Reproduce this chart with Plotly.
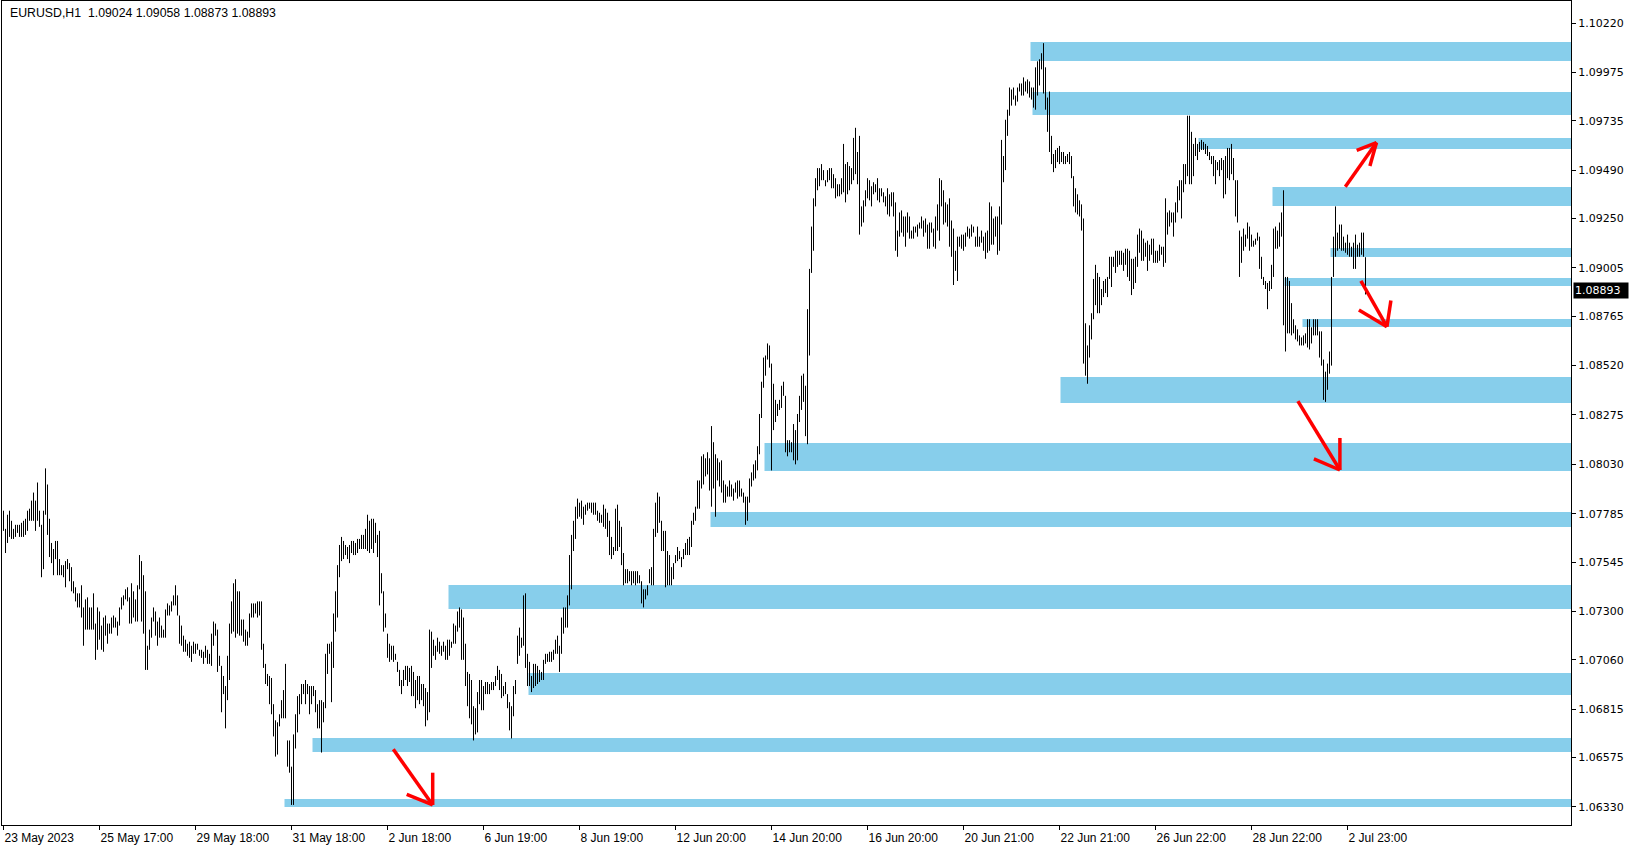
import plotly.graph_objects as go

# ---------------- data ----------------
SYMBOL = "EURUSD,H1"
BASE_PRICE = 1.0600          # bar extremes below are given in pips above this price
PIP = 0.0001

# hourly bars, index 0 = first visible bar (23 May 2023) ... 681 = current bar
high_pips = [
180,171,178,180,175,171,173,173,173,174, 175,176,180,181,185,189,185,194,180,173,
180,201,193,176,164,161,165,165,156,153, 153,155,156,154,152,145,142,139,139,143,
132,136,137,132,132,139,124,132,130,123, 127,128,124,124,127,128,127,125,132,137,
138,141,142,137,144,140,136,143,158,155, 148,140,113,121,127,132,130,125,127,123,
121,131,134,133,135,138,143,138,128,123, 118,116,114,115,113,115,114,114,111,111,
110,113,111,109,119,125,124,121,108,103, 98,93,108,124,135,144,146,140,140,126,
126,121,120,129,134,134,134,135,135,135, 114,104,99,98,97,84,76,75,79,86,
91,104,66,66,53,69,79,88,89,94, 94,96,94,93,93,93,91,84,86,86,
85,109,114,114,115,129,140,153,163,167, 165,163,162,163,165,165,164,166,166,168,
168,171,178,175,176,176,174,168,170,149, 140,129,119,114,113,113,109,105,101,96,
101,103,103,102,103,100,96,98,98,94, 94,92,90,121,120,116,113,117,115,113,
115,113,116,116,115,124,123,130,132,131, 127,114,100,99,96,83,82,90,96,96,
93,95,95,94,95,95,98,103,101,99, 93,95,89,85,83,93,96,118,122,117,
138,139,109,105,98,104,104,103,101,100, 106,109,109,110,110,111,116,118,113,127,
132,132,138,158,168,175,182,186,184,185, 182,183,184,184,184,184,184,180,179,178,
183,181,179,175,167,162,181,183,175,172, 159,151,151,150,150,150,150,150,148,145,
141,141,143,151,152,171,184,189,187,175, 170,170,160,158,152,154,158,162,160,157,
161,164,166,167,175,179,182,195,195,207, 208,206,209,206,222,214,208,206,204,205,
195,193,192,195,193,191,194,195,195,191, 189,187,187,196,199,203,205,212,228,244,
256,257,263,262,253,243,235,233,235,242, 244,237,215,215,214,223,220,228,237,247,
248,242,280,300,321,335,345,350,350,352, 349,344,349,350,350,347,345,342,342,345,
362,352,353,351,350,365,370,358,366,331, 334,339,345,344,341,343,342,345,340,340,
338,336,340,337,338,338,333,319,328,329, 326,326,328,326,319,321,321,322,323,326,
324,325,322,323,323,320,326,332,345,344, 339,333,332,335,324,320,309,316,316,317,
317,318,321,320,322,321,316,321,316,319, 316,318,319,333,331,325,326,326,331,364,
356,374,379,390,389,390,386,390,392,392, 395,393,394,393,390,390,400,403,404,407,
412,400,385,388,366,357,359,360,361,358, 358,356,357,358,356,346,340,337,334,332,
325,273,262,272,278,295,302,298,296,290, 294,295,296,306,306,306,309,309,309,309,
308,310,310,309,305,305,306,317,320,319, 315,313,314,312,315,315,309,309,312,311,
311,335,328,329,328,328,333,341,344,344, 352,352,376,376,368,362,365,362,363,364,
363,362,361,358,356,356,354,353,354,355, 354,356,360,360,362,355,344,344,319,316,
320,317,323,321,317,314,315,318,316,306, 296,294,293,294,302,320,321,319,323,328,
339,296,296,294,283,275,272,270,267,266, 267,268,275,275,271,275,275,275,269,269,
255,249,253,259,296,316,331,318,322,322, 316,313,317,313,311,313,317,312,313,318,
318,305.8,
]

low_pips = [
170,159,164,167,166,166,167,169,167,167, 167,168,170,175,175,175,170,175,172,147,
151,178,168,157,154,148,156,148,148,148, 147,142,151,145,140,139,135,132,132,127,
113,121,121,121,121,121,106,111,116,111, 110,118,114,119,119,122,122,118,123,131,
133,136,135,124,124,127,125,125,141,125, 119,101,101,111,117,125,118,113,117,117,
117,117,128,128,130,133,133,128,114,113, 110,110,108,107,105,109,109,111,108,107,
104,107,104,104,103,113,118,100,103,80, 89,72,86,96,119,120,117,119,118,118,
115,113,113,117,127,127,129,127,128,111, 102,94,93,84,79,68,58,59,73,77,
77,77,53,50,34,34,62,70,79,84, 89,84,89,79,84,88,80,72,72,60,
75,82,99,109,85,102,120,127,147,155, 156,158,156,154,159,158,158,159,161,161,
161,161,160,159,161,159,164,157,133,139, 120,122,107,105,106,105,106,100,93,89,
93,96,93,95,88,88,82,86,84,86, 83,73,76,80,102,108,106,110,109,108,
110,106,106,108,112,114,114,120,122,106, 106,93,83,77,74,66,69,70,84,81,
81,89,89,89,91,91,93,96,91,87, 88,89,82,71,67,78,89,104,108,112,
113,102,93,93,90,92,93,94,95,96, 96,104,105,105,105,106,109,109,100,109,
119,122,122,133,141,160,166,176,177,176, 173,178,180,181,179,178,178,175,174,174,
172,171,167,158,156,158,160,160,162,153, 143,144,144,145,143,144,143,144,144,134,
132,136,138,144,143,143,167,169,174,160, 160,142,143,143,143,146,154,155,156,152,
156,158,158,158,162,173,175,181,181,191, 193,197,198,190,182,191,177,195,192,189,
184,184,187,187,187,185,189,186,187,187, 184,173,175,184,192,195,196,200,208,226,
241,247,255,251,200,220,224,227,230,231, 237,209,207,209,209,205,203,205,224,230,
234,217,213,257,298,309,331,339,341,344, 344,341,343,344,340,340,335,336,336,337,
338,333,337,339,342,344,347,342,317,321, 323,331,335,334,331,337,338,334,333,336,
333,331,327,326,331,326,309,306,316,318, 316,311,318,315,315,315,318,316,320,320,
316,318,310,310,318,311,310,319,314,331, 322,323,321,311,306,292,299,294,311,310,
309,311,316,315,316,318,311,311,311,313, 309,305,308,309,312,312,316,307,309,322,
343,349,366,376,381,384,381,383,388,386, 386,388,387,385,384,380,379,386,391,399,
387,379,368,358,352,348,350,353,352,353, 352,352,353,352,345,331,328,327,326,319,
253,247,243,256,265,275,282,278,278,282, 286,288,286,295,291,301,298,301,302,302,
299,302,296,294,287,290,293,301,308,304, 304,306,299,304,307,303,303,303,304,307,
301,303,317,321,323,316,323,328,334,325, 338,342,346,342,342,346,356,354,358,359,
359,357,356,354,352,346,342,349,346,349, 335,337,345,344,347,344,326,323,296,303,
309,311,315,309,311,311,312,314,300,295, 292,290,280,289,290,296,310,310,311,316,
272,259,268,268,267,268,265,264,262,262, 262,263,261,260,263,267,267,267,256,252,
235,234,240,248,252,296,306,309,310,309, 309,308,307,306,306,300,300,306,306,307,
306,287.3,
]

# current (last) bar as shown in the header
last_open, last_high, last_low, last_close = 1.09024, 1.09058, 1.08873, 1.08893

# time axis labels (one label every 48 hourly bars)
x_tick_bars = [0, 48, 96, 144, 192, 240, 288, 336, 384, 432, 480, 528, 576, 624, 672]
x_tick_labels = ["23 May 2023", "25 May 17:00", "29 May 18:00", "31 May 18:00",
                 "2 Jun 18:00", "6 Jun 19:00", "8 Jun 19:00", "12 Jun 20:00",
                 "14 Jun 20:00", "16 Jun 20:00", "20 Jun 21:00", "22 Jun 21:00",
                 "26 Jun 22:00", "28 Jun 22:00", "2 Jul 23:00"]

y_tick_values = [1.10220, 1.09975, 1.09735, 1.09490, 1.09250, 1.09005, 1.08765,
                 1.08520, 1.08275, 1.08030, 1.07785, 1.07545, 1.07300, 1.07060,
                 1.06815, 1.06575, 1.06330]

# supply / demand zones: starting bar, upper price, lower price
zone_start_bar = [514, 515, 598, 635, 664, 641, 650, 529, 381, 354, 223, 263, 155, 141]
zone_top = [1.10126, 1.09878, 1.09649, 1.09406, 1.09104, 1.08955, 1.08751,
            1.08463, 1.08136, 1.07794, 1.07431, 1.06995, 1.06672, 1.06369]
zone_bottom = [1.10031, 1.09763, 1.09595, 1.09312, 1.09059, 1.08915, 1.08712,
               1.08334, 1.07997, 1.07719, 1.07312, 1.06886, 1.06603, 1.06330]

# hand-drawn red arrows: (bar, price) anchors for tail, tip and the two head strokes
arrow_tail = [(194.9, 1.06616), (647.2, 1.08344), (670.9, 1.09408), (678.7, 1.08940)]
arrow_tip = [(214.6, 1.06340), (668.2, 1.08002), (686.5, 1.09627), (691.7, 1.08713)]
arrow_head_a = [(214.6, 1.06500), (668.2, 1.08161), (676.6, 1.09588), (693.7, 1.08843)]
arrow_head_b = [(201.6, 1.06393), (655.2, 1.08057), (683.2, 1.09510), (677.7, 1.08796)]

# ---------------- figure ----------------
X_MIN, X_MAX = -0.75, 783.75
Y_MIN, Y_MAX = 1.062405, 1.103292

highs = [BASE_PRICE + h * PIP for h in high_pips]
lows = [BASE_PRICE + l * PIP for l in low_pips]
highs[-1], lows[-1] = last_high, last_low

xs, ys = [], []
for i, (h, l) in enumerate(zip(highs, lows)):
    xs += [i, i, None]
    ys += [l, h, None]

fig = go.Figure()
fig.add_trace(go.Scatter(x=xs, y=ys, mode="lines",
                         line=dict(color="black", width=1),
                         hoverinfo="skip", showlegend=False))

shapes = []
for s, t, b in zip(zone_start_bar, zone_top, zone_bottom):
    shapes.append(dict(type="rect", xref="x", yref="y", x0=s - 0.5, x1=X_MAX,
                       y0=b, y1=t, fillcolor="#87CEEB", line=dict(width=0),
                       layer="below"))
for tail, tip, ha, hb in zip(arrow_tail, arrow_tip, arrow_head_a, arrow_head_b):
    for p in (tail, ha, hb):
        shapes.append(dict(type="line", xref="x", yref="y", x0=p[0], y0=p[1],
                           x1=tip[0], y1=tip[1],
                           line=dict(color="#FF0000", width=3.5), layer="above"))

NBSP = "\u00a0"
header_text = (f"{SYMBOL}{NBSP}{NBSP}{last_open:.5f} {last_high:.5f} "
               f"{last_low:.5f} {last_close:.5f}")

fig.update_layout(
    width=1635, height=850,
    margin=dict(l=2, r=64, t=1, b=25),
    paper_bgcolor="white", plot_bgcolor="white",
    showlegend=False, hovermode=False,
    shapes=shapes,
    xaxis=dict(range=[X_MIN, X_MAX], showgrid=False, zeroline=False,
               tickmode="array", tickvals=x_tick_bars, ticktext=x_tick_labels,
               ticks="outside", ticklen=4, tickcolor="black",
               ticklabelposition="outside right", ticklabelstandoff=2,
               tickfont=dict(family="Liberation Sans", size=12, color="black"),
               showline=True, linecolor="black", linewidth=1, mirror=True,
               fixedrange=True),
    yaxis=dict(range=[Y_MIN, Y_MAX], side="right", showgrid=False, zeroline=False,
               tickmode="array", tickvals=y_tick_values,
               ticktext=[f"{v:.5f}" for v in y_tick_values],
               ticks="outside", ticklen=4, tickcolor="black",
               tickfont=dict(family="DejaVu Sans", size=11, color="black"),
               showline=True, linecolor="black", linewidth=1, mirror=True,
               fixedrange=True),
    annotations=[
        dict(xref="paper", yref="paper", x=0, y=1, xanchor="left", yanchor="top",
             xshift=6, yshift=-3, showarrow=False, text=header_text,
             font=dict(family="Liberation Sans", size=12.3, color="black")),
        dict(xref="paper", yref="y", x=1, y=last_close, xanchor="left", yanchor="middle",
             xshift=2, showarrow=False, text=f"{last_close:.5f}",
             bgcolor="black", borderpad=1, width=52, align="left",
             font=dict(family="DejaVu Sans", size=11, color="white")),
    ],
)

fig.write_html("out.html", config={"displayModeBar": False},
               post_script="document.body.style.margin='0';document.body.style.overflow='hidden';")
